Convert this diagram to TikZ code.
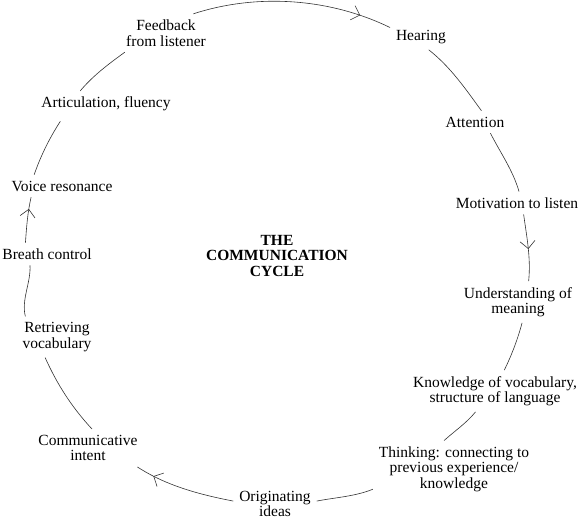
\documentclass[tikz,border=0pt]{standalone}
\usepackage{fontspec}
\setmainfont{Liberation Serif}
\usetikzlibrary{arrows.meta,decorations.markings}

\begin{document}
\begin{tikzpicture}[x=1pt,y=1pt,
    lbl/.style={align=center,inner sep=2pt,outer sep=4pt,font=\fontsize{15.5}{15.5}\selectfont},
    cyc/.style={black!80,line width=0.6pt,looseness=0.87},
    arr/.style={postaction={decorate,decoration={markings,
        mark=at position #1 with {\arrow{Straight Barb[length=7.5pt,width=15pt]}}}}}]
    % page
    \useasboundingbox (0,0) rectangle (581,520);

    % title in the middle
    \node[lbl,font=\fontsize{15.5}{15.5}\selectfont\bfseries] (title) at (277,264) {THE\\COMMUNICATION\\CYCLE};

    % steps round the cycle
    \node[lbl] (fb) at (166,487) {Feedback\\from listener};
    \node[lbl] (hear) at (421,483) {Hearing};
    \node[lbl] (att) at (475,398) {Attention};
    \node[lbl] (mot) at (517,317) {Motivation to listen};
    \node[lbl] (und) at (518,218) {Understanding of\\meaning};
    \node[lbl] (know) at (495,129) {Knowledge of vocabulary,\\structure of language};
    \node[lbl] (think) at (454,51) {Thinking: connecting to\\previous experience/\\knowledge};
    \node[lbl] (orig) at (275,16) {Originating\\ideas};
    \node[lbl] (comm) at (88,72) {Communicative\\intent};
    \node[lbl] (retr) at (57,183) {Retrieving\\vocabulary};
    \node[lbl] (breath) at (47,266) {Breath control};
    \node[lbl] (voice) at (62,334) {Voice resonance};
    \node[lbl] (artic) at (106,416) {Articulation, fluency};

    % arcs of the circle, clockwise
    \draw[cyc,arr=0.84] (fb.35) to[out=18,in=154] (hear.163);
    \draw[cyc] (hear.-59) to[out=-38,in=126] (att.60);
    \draw[cyc] (att.-36) to[out=-63,in=106] (mot.80);
    \draw[cyc,arr=0.52] (mot.-60) to[out=-82,in=84] (und.63);
    \draw[cyc] (und.-79) to[out=-105,in=64] (know.66);
    \draw[cyc] (know.-133) to[out=-129,in=42] (think.109);
    \draw[cyc] (think.-166) to[out=-158,in=11] (orig.4);
    \draw[cyc,arr=0.82] (orig.176) to[out=169,in=-33] (comm.-21);
    \draw[cyc] (comm.78) to[out=133,in=-66] (retr.-120);
    \draw[cyc] (retr.147) to[out=104,in=-87] (breath.-146);
    \draw[cyc,arr=0.74] (breath.152) to[out=86,in=-103] (voice.-160);
    \draw[cyc,shorten >=5pt] (voice.158) to[out=71,in=-123] (artic.-163);
    \draw[cyc] (artic.153) to[out=50,in=-144] (fb.-155);
\end{tikzpicture}
\end{document}
